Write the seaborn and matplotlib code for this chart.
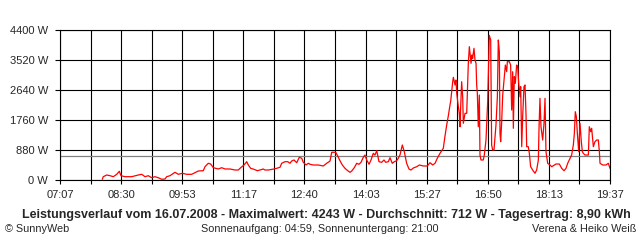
import numpy as np
import pandas as pd
import matplotlib
matplotlib.use("Agg")
import matplotlib.pyplot as plt
import seaborn as sns

# minutes after 07:07
minutes = [57.7, 59.0, 63.7, 68.2, 72.7, 77.3, 80.9, 83.2, 88.6, 97.8,
           106.8, 111.4, 115.9, 120.4, 125.0, 129.5, 134.0, 138.7, 143.2, 145.5,
           150.0, 156.8, 161.3, 166.8, 172.8, 179.6, 184.1, 188.6, 195.4, 197.7,
           202.2, 205.5, 209.0, 215.9, 220.5, 225.0, 231.8, 238.6, 243.1, 246.4,
           250.9, 254.6, 256.8, 260.0, 264.5, 269.1, 272.7, 277.2, 279.5, 284.1,
           291.8, 295.5, 300.0, 302.3, 306.8, 310.5, 313.6, 315.9, 319.1, 322.8,
           326.3, 329.6, 331.8, 335.5, 338.6, 340.9, 345.4, 352.2, 359.0, 363.7,
           368.2, 370.5, 376.0, 378.7, 381.8, 385.0, 388.6, 392.3, 395.5, 397.8,
           401.3, 404.6, 407.7, 410.5, 413.6, 415.9, 418.2, 421.4, 424.1, 427.2,
           429.5, 431.9, 435.0, 438.7, 441.8, 444.1, 447.7, 450.0, 453.1, 455.9,
           459.1, 461.3, 463.6, 466.8, 469.5, 472.7, 475.9, 478.6, 481.8, 486.4,
           490.0, 495.4, 500.9, 504.5, 508.2, 511.4, 514.5, 518.2, 522.7, 525.0,
           527.3, 529.5, 531.8, 532.7, 535.5, 536.4, 538.7, 540.0, 541.0, 542.3,
           543.2, 544.5, 545.5, 546.4, 547.7, 549.1, 550.0, 552.3, 554.6, 556.8,
           558.2, 560.5, 561.8, 562.7, 564.5, 565.9, 567.3, 568.2, 569.1, 570.4,
           571.8, 572.7, 574.1, 577.2, 578.6, 580.9, 583.2, 585.4, 587.3, 588.6,
           590.0, 591.8, 594.5, 596.4, 597.7, 599.1, 600.0, 600.9, 602.3, 603.7,
           605.5, 607.3, 609.1, 610.0, 612.7, 614.5, 615.9, 617.3, 618.2, 619.5,
           620.9, 622.7, 624.1, 625.5, 626.3, 627.3, 628.2, 629.6, 630.9, 632.7,
           634.1, 635.5, 636.4, 638.6, 640.0, 641.8, 644.5, 647.7, 650.0, 652.3,
           653.2, 654.5, 655.9, 658.2, 660.0, 661.4, 662.7, 665.0, 668.2, 670.5,
           672.7, 676.4, 680.9, 684.1, 687.3, 690.0, 692.3, 695.5, 697.7, 700.0,
           701.4, 702.7, 704.1, 705.5, 707.3, 709.1, 710.9, 712.3, 713.6, 715.9,
           718.2, 720.5, 721.8, 723.7, 725.0, 727.3, 729.5, 731.8, 734.1, 735.5,
           736.4, 740.0, 744.5, 747.7, 750.0]
watts = [21, 97, 147, 126, 97, 167, 255, 126, 97, 97,
         147, 167, 97, 126, 67, 97, 67, 21, 29, 97,
         126, 226, 167, 197, 167, 167, 214, 264, 273, 390,
         490, 469, 361, 323, 361, 323, 323, 293, 293, 361,
         440, 537, 440, 343, 314, 273, 293, 323, 293, 293,
         323, 343, 373, 490, 537, 537, 490, 557, 587, 507,
         666, 637, 519, 440, 490, 461, 440, 440, 411, 490,
         557, 813, 813, 704, 566, 440, 343, 273, 226, 264,
         361, 490, 461, 519, 666, 733, 587, 461, 587, 783,
         733, 859, 537, 519, 587, 519, 537, 654, 490, 537,
         566, 637, 733, 1027, 830, 490, 323, 293, 352, 390,
         440, 411, 411, 507, 440, 490, 637, 783, 930, 1291,
         1613, 1877, 2200, 2297, 2883, 3012, 2787, 2933, 2543, 2297,
         2150, 1956, 1563, 2150, 2883, 2443, 1663, 1956, 1956, 3423,
         3910, 3423, 3667, 3570, 3863, 3520, 3423, 2787, 2543, 1563,
         2493, 733, 587, 587, 733, 1173, 2297, 4243, 4107, 1027,
         880, 880, 1613, 2443, 4107, 3763, 1370, 1123, 1710, 2493,
         2933, 3373, 3177, 3470, 3470, 3373, 2053, 3177, 1516, 3030,
         2836, 3373, 3323, 2836, 2690, 2443, 2737, 977, 1857, 2737,
         2787, 1907, 977, 977, 783, 390, 293, 197, 293, 587,
         1516, 2396, 1563, 1173, 1663, 2396, 830, 490, 440, 390,
         420, 469, 469, 343, 273, 343, 490, 637, 733, 1027,
         1370, 2003, 1857, 1370, 830, 1663, 1123, 830, 783, 733,
         733, 733, 1563, 1417, 1516, 977, 1123, 1173, 1173, 830,
         490, 440, 440, 490, 343]

time_labels = ["07:07", "08:30", "09:53", "11:17", "12:40",
               "14:03", "15:27", "16:50", "18:13", "19:37"]
y_values = [0, 880, 1760, 2640, 3520, 4400]
y_labels = ["0 W", "880 W", "1760 W", "2640 W", "3520 W", "4400 W"]
average_w = 712
span_minutes = 750

title = ("Leistungsverlauf vom 16.07.2008 - Maximalwert: 4243 W - "
         "Durchschnitt: 712 W - Tagesertrag: 8,90 kWh")
footer_left = "© SunnyWeb"
footer_mid = "Sonnenaufgang: 04:59, Sonnenuntergang: 21:00"
footer_right = "Verena & Heiko Weiß"

sns.set_style("white")
plt.rcParams['font.family'] = ['Liberation Sans', 'DejaVu Sans']

fig = plt.figure(figsize=(6.4, 2.4), dpi=100)
fig.patch.set_facecolor("white")
ax = fig.add_axes([60 / 640, 60 / 240, 550 / 640, 150 / 240])

df = pd.DataFrame({"t": minutes, "w": watts})
ax.axhline(average_w, color="#808080", lw=0.9, zorder=2.5)
sns.lineplot(data=df, x="t", y="w", color="#ff0000", linewidth=0.9,
             ax=ax, sort=False, estimator=None, zorder=3)

ax.set_xlim(0, span_minutes)
ax.set_ylim(0, 4400)
ax.set_xlabel("")
ax.set_ylabel("")

major = np.linspace(0, span_minutes, len(time_labels))
minor = np.linspace(0, span_minutes, 2 * len(time_labels) - 1)
ax.set_xticks(major)
ax.set_xticklabels(time_labels)
ax.set_xticks(minor, minor=True)
ax.set_yticks(y_values)
ax.set_yticklabels(y_labels)

ax.grid(True, which='both', color='black', lw=0.8, zorder=1)
ax.set_axisbelow(True)
for s in ax.spines.values():
    s.set_visible(True)
    s.set_color("black")
    s.set_linewidth(0.8)

ax.tick_params(axis='x', which='both', direction='out', length=3.2,
               width=0.8, color='black', labelsize=8, pad=4)
ax.tick_params(axis='y', which='both', direction='out', length=3.6,
               width=0.8, color='black', labelsize=8, pad=5)
ax.tick_params(left=True, bottom=True)
ax.tick_params(axis='x', which='minor', bottom=True)

fig.text(326 / 640, 1 - 215 / 240, title, ha='center', va='center',
         fontweight='bold', fontsize=9.0)
fig.text(5 / 640, 1 - 229 / 240, footer_left, ha='left', va='center', fontsize=7.8)
fig.text(320 / 640, 1 - 229 / 240, footer_mid, ha='center', va='center', fontsize=7.8)
fig.text(636 / 640, 1 - 229 / 240, footer_right, ha='right', va='center', fontsize=7.8)

fig.savefig("out.png", dpi=100, facecolor="white")
